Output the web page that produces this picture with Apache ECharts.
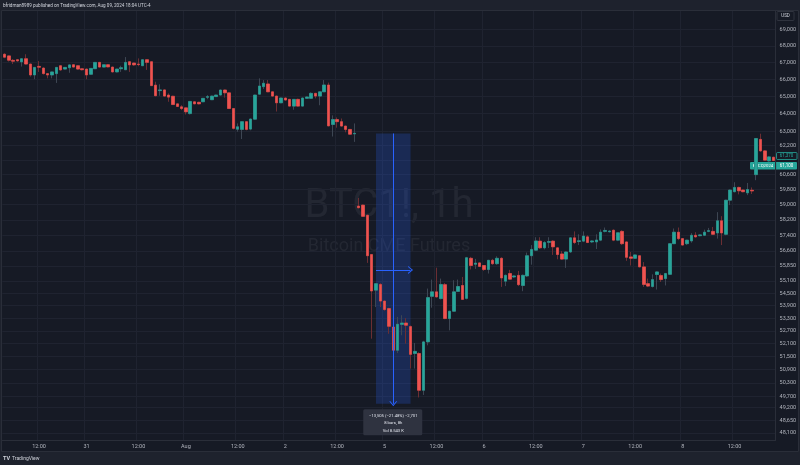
<!DOCTYPE html>
<html>
<head>
<meta charset="utf-8">
<script src="https://cdn.jsdelivr.net/npm/echarts@6/dist/echarts.min.js"></script>
<style>
html, body { margin: 0; padding: 0; background: #1e222d; }
#chart { width: 800px; height: 465px; }
</style>
</head>
<body>
<div id="chart"></div>
<script>
// hourly bars of BTC1! (CME), 30 Jul - 8 Aug 2024, no 17:00 bar, weekend gap
const sessions = [['07-30', 4, 23], ['07-31', 0, 23], ['08-01', 0, 23], ['08-02', 0, 16],
    ['08-04', 18, 23], ['08-05', 0, 23], ['08-06', 0, 23], ['08-07', 0, 23], ['08-08', 0, 22]];
const dayLabels = {'07-31': '31', '08-01': 'Aug', '08-02': '2', '08-05': '5', '08-06': '6', '08-07': '7', '08-08': '8'};

const opens = [
    67490, 67390, 67120, 67160, 67030, 67220, 66900, 66250, 66760, 66660,
    66330, 66250, 66330, 66800, 66600, 66680, 66860, 66800, 66620, 66600,
    66290, 66620, 67000, 66720, 66860, 66720, 66430, 66620, 66560, 67040,
    66960, 66900, 66800, 67160, 67040, 65650, 65330, 65370, 65070, 65000,
    64560, 64390, 64330, 64000, 64680, 64650, 64680, 64940, 64800, 64980,
    65070, 65365, 65200, 64290, 63110, 63100, 63540, 63120, 63680, 65120,
    65560, 65720, 65260, 65010, 64620, 64900, 64820, 64430, 64820, 64430,
    64880, 64880, 65170, 65010, 65260, 65660, 63380, 63660, 63540, 63290,
    63100, 62850, 58920, 58970, 58440, 56420, 54650, 54930, 54120, 53760,
    52880, 51790, 53000, 53070, 52900, 51640, 51640, 49970, 52180, 54350,
    54570, 54240, 54920, 53280, 53630, 54590, 54880, 54250, 56230, 55930,
    56000, 55870, 55670, 56130, 55960, 56230, 55090, 55470, 55300, 55380,
    54880, 55350, 56360, 56640, 57100, 56760, 57040, 57100, 56760, 56450,
    56190, 56550, 57270, 57080, 57100, 57320, 57060, 57060, 57150, 57600,
    57580, 57660, 57150, 57600, 57060, 56300, 56230, 56360, 55800, 54970,
    54830, 55420, 55370, 55220, 55430, 56970, 57560, 57230, 56970, 57110,
    57400, 57380, 57400, 57600, 57600, 57520, 58150, 57450, 59230, 59680,
    59910, 59770, 59620, 59760, 60600, 62540, 61900, 61350, 61550
];
const closes = [
    67310, 67130, 67070, 67090, 67220, 66900, 66250, 66700, 66710, 66330,
    66250, 66430, 66700, 66550, 66700, 66850, 66720, 66600, 66560, 66250,
    66640, 67000, 66720, 66860, 66730, 66430, 66600, 66680, 67000, 66850,
    66850, 66870, 67160, 67000, 65620, 65030, 65370, 65010, 64950, 64520,
    64410, 64290, 64100, 64700, 64560, 64560, 64880, 64980, 65010, 65070,
    65365, 65200, 64290, 63160, 63250, 63540, 63100, 63690, 65070, 65600,
    65760, 65260, 65010, 64620, 64900, 64780, 64430, 64820, 64430, 64900,
    64960, 65170, 65010, 65260, 65660, 63300, 63660, 63540, 63290, 63100,
    62830, 62880, 58830, 58380, 56360, 54610, 54970, 54120, 53710, 52910,
    51790, 53010, 53070, 52960, 51600, 51740, 49970, 52180, 54290, 54570,
    54320, 54930, 53280, 53630, 54570, 54830, 54200, 56260, 55870, 55990,
    55820, 55670, 56130, 55960, 56230, 55250, 55380, 55190, 55350, 54920,
    55380, 56360, 56680, 57110, 56760, 57030, 57080, 56810, 56420, 56190,
    56550, 57270, 57030, 57120, 57360, 57030, 57110, 57160, 57560, 57650,
    57620, 57150, 57530, 56970, 56280, 56230, 56400, 55800, 54930, 54850,
    55170, 55550, 55170, 55470, 56970, 57560, 57230, 56900, 57150, 57400,
    57320, 57420, 57560, 57640, 57450, 58150, 57520, 59230, 59770, 59910,
    59730, 59680, 59800, 59720, 62590, 61900, 61390, 61570, 61370
];
const highs = [
    67550, 67420, 67200, 67200, 67240, 67490, 66920, 66720, 67080, 66700,
    66350, 66450, 66720, 66830, 66720, 66870, 66900, 66830, 66640, 66620,
    66660, 67020, 67030, 66880, 66880, 66740, 66620, 66800, 67320, 67060,
    66980, 67240, 67180, 67200, 67060, 65850, 65700, 65400, 65170, 65030,
    64580, 64480, 64350, 64720, 64700, 64680, 64900, 65070, 65030, 65090,
    65390, 65390, 65220, 64310, 63440, 63560, 63560, 63710, 65090, 66050,
    65950, 65950, 65280, 65030, 64920, 64920, 64840, 64840, 64860, 64920,
    64990, 65230, 65200, 65280, 65950, 65800, 63900, 63780, 63720, 63310,
    63120, 63440, 59350, 59000, 58460, 56440, 55000, 55000, 54150, 53800,
    52900, 53360, 53440, 53300, 52950, 52130, 51700, 52230, 54730, 55170,
    55760, 55220, 55000, 53650, 55140, 55170, 55300, 56300, 56300, 56200,
    56020, 55890, 56150, 56200, 56330, 56280, 55420, 55650, 55380, 55600,
    55420, 56520, 56900, 57300, 57300, 57100, 57300, 57150, 56800, 56600,
    56580, 57300, 57600, 57450, 57600, 57400, 57150, 57450, 57700, 57800,
    57650, 57700, 57560, 57660, 57080, 56550, 56420, 56380, 56040, 55220,
    55430, 55580, 55470, 55500, 57000, 57750, 57800, 57260, 57170, 57510,
    57560, 57450, 57690, 57780, 57830, 58600, 58390, 59250, 59800, 60190,
    59950, 59800, 60150, 59910, 62620, 62860, 61950, 61620, 61580
];
const lows = [
    67250, 67050, 66900, 67050, 66750, 66880, 66150, 66000, 66430, 66280,
    66050, 66050, 65780, 66500, 66580, 66380, 66700, 66560, 66520, 66000,
    66250, 66600, 66700, 66700, 66700, 66400, 66400, 66430, 66540, 66430,
    66800, 66770, 66780, 66550, 65600, 65000, 65030, 64990, 64680, 64500,
    64380, 64200, 63950, 63950, 64540, 64530, 64660, 64830, 64780, 64960,
    65050, 64920, 64270, 63100, 62970, 62560, 63050, 63050, 63650, 65100,
    65420, 65240, 64990, 64120, 64600, 64760, 64410, 64220, 64410, 64410,
    64850, 64860, 64880, 64480, 65240, 63280, 62700, 63200, 63270, 62940,
    62800, 62400, 58800, 58350, 56000, 52330, 53830, 53830, 53650, 52560,
    51700, 51660, 52490, 52100, 50950, 50950, 49650, 49760, 52020, 53800,
    54300, 54200, 53250, 52720, 53600, 54560, 54180, 54200, 55670, 55700,
    55790, 55600, 55470, 55900, 55900, 54810, 54850, 55150, 55250, 54850,
    54600, 55300, 55910, 56600, 56700, 56680, 56750, 56400, 56180, 56150,
    55750, 56500, 56950, 56900, 57050, 57000, 57000, 56700, 57100, 57550,
    57550, 57100, 57100, 56900, 56100, 55870, 56200, 55780, 54810, 54800,
    54780, 54680, 55050, 54880, 55400, 56950, 57150, 56880, 56900, 57020,
    57280, 57350, 57360, 57560, 57420, 57230, 56900, 57400, 58970, 59650,
    59540, 59650, 59500, 59560, 60300, 61850, 61350, 61300, 61340
];

// price scale labels as printed on the right axis (61,400 sits under the price tags)
const yTicks = [69000, 68000, 67000, 66000, 65000, 64000, 63000, 62200, 61400, 60600,
    59800, 59000, 58200, 57400, 56600, 55850, 55100, 54500, 53900, 53300,
    52700, 52100, 51500, 50900, 50300, 49700, 49200, 48650, 48100];
const hiddenTicks = [61400];

// measure tool: from bar 86 to bar 94, 62,872 down to 49,367
const measureBars = [86, 94];
const measurePrices = [62872, 49367];
const measureText = ['\u221213,505 (\u221221.48%) \u22122,701', '8 bars, 8h', 'Vol 8.543 K'];
const lastPrice = 61370;
const frontPrice = 61100;

const times = [];
sessions.forEach(function (s) {
    for (let h = s[1]; h <= s[2]; h++) {
        if (h === 17) continue;
        times.push(s[0] + ' ' + (h < 10 ? '0' : '') + h + ':00');
    }
});

function isMark(v) {
    let h = v.slice(6);
    return h === '12:00' || (h === '00:00' && !!dayLabels[v.slice(0, 5)]);
}

let font = 'Roboto, "Noto Sans", sans-serif';
let upColor = '#26a69a', downColor = '#ef5350';
let chevron = 'path://M0,10 L5,0 L10,10 L8.6,10 L5,3 L1.4,10 Z';

let chart = echarts.init(document.getElementById('chart'));

let wickData = [], bodyData = [];
for (let i = 0; i < times.length; i++) {
    wickData.push([opens[i], closes[i], lows[i], highs[i]]);
    bodyData.push([opens[i], closes[i], Math.min(opens[i], closes[i]), Math.max(opens[i], closes[i])]);
}

let option = {
    backgroundColor: '#1e222d',
    animation: false,
    grid: {left: 2.3, right: 24.4, top: 11, bottom: 25, containLabel: false},
    xAxis: {
        type: 'category',
        data: times,
        boundaryGap: true,
        axisLine: {show: true, lineStyle: {color: '#2a2e39'}},
        axisTick: {show: false},
        axisLabel: {
            interval: function (i, v) { return isMark(v); },
            formatter: function (v) {
                return v.slice(6) === '12:00' ? '12:00' : dayLabels[v.slice(0, 5)];
            },
            color: '#b2b5be', fontSize: 5.5, margin: 4, fontFamily: font
        },
        splitLine: {
            show: true,
            interval: function (i, v) { return isMark(v); },
            lineStyle: {color: '#1f2330', width: 1}
        }
    },
    yAxis: {
        type: 'log',
        position: 'right',
        min: 47796,
        max: 70151,
        axisLine: {show: true, lineStyle: {color: '#2a2e39'}},
        axisTick: {show: false, customValues: yTicks},
        axisLabel: {
            customValues: yTicks,
            formatter: function (v) {
                let r = Math.round(v / 50) * 50;
                return hiddenTicks.indexOf(r) >= 0 ? '' : r.toLocaleString('en-US');
            },
            color: '#b2b5be', fontSize: 5.5, margin: 4, fontFamily: font
        },
        splitLine: {show: true, lineStyle: {color: '#1f2330', width: 1}}
    },
    series: [
        {
            name: 'wick',
            type: 'candlestick',
            data: wickData,
            barWidth: 3,
            itemStyle: {color: '#3d4653', color0: '#6b2e33', borderColor: '#3d4653', borderColor0: '#6b2e33', borderWidth: 1},
            markArea: {
                silent: true,
                itemStyle: {color: 'rgba(41,98,255,0.22)'},
                data: [[
                    {coord: [times[measureBars[0]], measurePrices[0]]},
                    {coord: [times[measureBars[1]], measurePrices[1]]}
                ]]
            }
        },
        {
            name: 'BTC1!',
            type: 'candlestick',
            data: bodyData,
            barWidth: 3,
            itemStyle: {color: upColor, color0: downColor, borderColor: upColor, borderColor0: downColor, borderWidth: 0.5},
            markLine: {
                silent: true,
                symbol: ['none', 'none'],
                label: {show: false},
                lineStyle: {color: '#2962ff', width: 1, type: 'solid'},
                data: [
                    [{coord: [times[90], measurePrices[0]], symbol: 'none'},
                     {coord: [times[90], measurePrices[1]], symbol: chevron, symbolSize: [8, 5]}],
                    [{coord: [times[measureBars[0]], 55650], symbol: 'none'},
                     {coord: [times[measureBars[1]], 55650], symbol: chevron, symbolSize: [8, 5]}]
                ]
            }
        }
    ]
};

option && chart.setOption(option, true);

// frame, watermark, header, footer and labels tied to the chart scale
let boxPt = chart.convertToPixel({gridIndex: 0}, [times[90], measurePrices[1]]);
let lastY = chart.convertToPixel({gridIndex: 0}, [times[0], lastPrice])[1];
let frontY = chart.convertToPixel({gridIndex: 0}, [times[0], frontPrice])[1];

chart.setOption({
    graphic: [
        {type: 'rect', z: -10, shape: {x: 1.5, y: 10.5, width: 797, height: 441}, style: {fill: '#161a25', stroke: '#2a2e39', lineWidth: 1}},
        {type: 'text', z: -5, x: 389, y: 207, style: {text: 'BTC1!, 1h', fill: 'rgba(209,212,220,0.07)', font: '40px ' + font, align: 'center', verticalAlign: 'middle'}},
        {type: 'text', z: -5, x: 389, y: 246, style: {text: 'Bitcoin CME Futures', fill: 'rgba(209,212,220,0.07)', font: '18px ' + font, align: 'center', verticalAlign: 'middle'}},
        {type: 'text', x: 3, y: 5.5, style: {text: 'bfridman8989 published on TradingView.com, Aug 09, 2024 18:04 UTC-4', fill: '#d1d4dc', font: '4.6px ' + font, verticalAlign: 'middle'}},
        {type: 'rect', shape: {x: 777, y: 11.5, width: 17, height: 9, r: 1}, style: {fill: '#161a25', stroke: '#363a45', lineWidth: 0.8}},
        {type: 'text', x: 785.5, y: 16, style: {text: 'USD', fill: '#d1d4dc', font: '4.5px ' + font, align: 'center', verticalAlign: 'middle'}},
        {type: 'text', x: 3, y: 458.5, style: {text: 'TV', fill: '#d1d4dc', font: 'bold 5.5px ' + font, verticalAlign: 'middle'}},
        {type: 'text', x: 12, y: 458.5, style: {text: 'TradingView', fill: '#d1d4dc', font: '5px ' + font, verticalAlign: 'middle'}},
        {type: 'rect', shape: {x: boxPt[0] - 30, y: boxPt[1] + 5.5, width: 59, height: 26, r: 1.5}, style: {fill: '#2f3340'}},
        {type: 'text', x: boxPt[0], y: boxPt[1] + 12, style: {text: measureText[0], fill: '#e0e3eb', font: '4.2px ' + font, align: 'center', verticalAlign: 'middle'}},
        {type: 'text', x: boxPt[0], y: boxPt[1] + 19.5, style: {text: measureText[1], fill: '#e0e3eb', font: '4.2px ' + font, align: 'center', verticalAlign: 'middle'}},
        {type: 'text', x: boxPt[0], y: boxPt[1] + 27, style: {text: measureText[2], fill: '#e0e3eb', font: '4.2px ' + font, align: 'center', verticalAlign: 'middle'}},
        {type: 'rect', shape: {x: 776.5, y: lastY - 8, width: 20.5, height: 7, r: 1}, style: {fill: '#161a25', stroke: upColor, lineWidth: 0.8}},
        {type: 'text', x: 786.5, y: lastY - 4.5, style: {text: lastPrice.toLocaleString('en-US'), fill: upColor, font: '4.5px ' + font, align: 'center', verticalAlign: 'middle'}},
        {type: 'rect', shape: {x: 750, y: frontY - 3.5, width: 47, height: 7.5, r: 1}, style: {fill: upColor}},
        {type: 'line', shape: {x1: 776, y1: frontY - 3.5, x2: 776, y2: frontY + 4}, style: {stroke: '#1c7e75', lineWidth: 0.6}},
        {type: 'text', x: 763, y: frontY + 0.3, style: {text: 'BTCQ2024', fill: '#ffffff', font: '4.3px ' + font, align: 'center', verticalAlign: 'middle'}},
        {type: 'text', x: 786.5, y: frontY + 0.3, style: {text: frontPrice.toLocaleString('en-US'), fill: '#ffffff', font: '4.5px ' + font, align: 'center', verticalAlign: 'middle'}}
    ]
});

window.addEventListener('resize', function () {
    chart.resize();
});
</script>
</body>
</html>
